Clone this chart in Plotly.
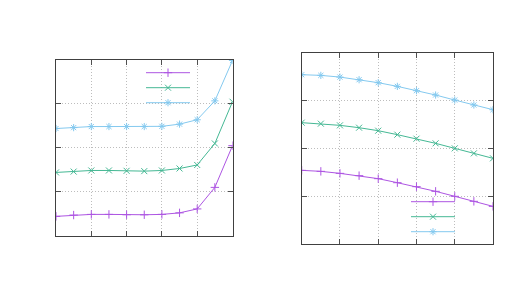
import plotly.graph_objects as go

x_vals = [0, 0.5, 1, 1.5, 2, 2.5, 3, 3.5, 4, 4.5, 5]

left_purple = [0.44, 0.47, 0.485, 0.485, 0.477, 0.477, 0.485, 0.52, 0.61, 1.10, 2.05]
left_green = [1.44, 1.46, 1.485, 1.485, 1.477, 1.47, 1.485, 1.53, 1.61, 2.10, 3.05]
left_blue = [2.44, 2.46, 2.485, 2.485, 2.485, 2.485, 2.49, 2.54, 2.64, 3.07, 3.99]

right_purple = [1.54, 1.519, 1.477, 1.429, 1.366, 1.282, 1.199, 1.101, 0.997, 0.892, 0.787]
right_green = [2.537, 2.516, 2.481, 2.432, 2.369, 2.286, 2.202, 2.105, 2.0, 1.895, 1.791]
right_blue = [3.54, 3.526, 3.49, 3.435, 3.373, 3.296, 3.206, 3.115, 3.01, 2.906, 2.808]

colors = ["#ad55e2", "#45b894", "#84c9ef"]
symbols = ["cross-thin-open", "x-thin-open", "asterisk-open"]

# page has an 8px body margin; figure coordinates = screen - OFF
OFF = 8
W, H = 520 - OFF, 300 - OFF


def px(xs):
    return (xs - OFF) / W


def py(ys):
    return 1 - (ys - OFF) / H


fig = go.Figure()

left_series = [left_purple, left_green, left_blue]
right_series = [right_purple, right_green, right_blue]

legend_names_left = ["legend", "legend2", "legend3"]
legend_names_right = ["legend4", "legend5", "legend6"]

for i, ys in enumerate(left_series):
    fig.add_trace(go.Scatter(
        x=x_vals, y=ys, mode="lines+markers", name="",
        line=dict(color=colors[i], width=1),
        marker=dict(symbol=symbols[i], size=6, color=colors[i],
                    line=dict(color=colors[i], width=1)),
        xaxis="x", yaxis="y", legend=legend_names_left[i], showlegend=True,
    ))
for i, ys in enumerate(right_series):
    fig.add_trace(go.Scatter(
        x=x_vals, y=ys, mode="lines+markers", name="",
        line=dict(color=colors[i], width=1),
        marker=dict(symbol=symbols[i], size=6, color=colors[i],
                    line=dict(color=colors[i], width=1)),
        xaxis="x2", yaxis="y2", legend=legend_names_right[i], showlegend=True,
    ))

axis_common = dict(
    showgrid=True, gridcolor="#bdbdbd", griddash="1px,2px", gridwidth=1,
    showline=True, linecolor="#404040", linewidth=1, mirror="allticks",
    ticks="inside", ticklen=5, tickcolor="#505050", tickwidth=1,
    showticklabels=False, zeroline=False, dtick=1, tick0=0,
)

fig.update_layout(
    width=W, height=H,
    margin=dict(l=0, r=0, t=0, b=0),
    paper_bgcolor="white", plot_bgcolor="white",
    xaxis=dict(domain=[px(56), px(232.5)], range=[0, 5], anchor="y", **axis_common),
    yaxis=dict(domain=[py(235.7), py(60)], range=[0, 4], anchor="x", **axis_common),
    xaxis2=dict(domain=[px(301.7), px(493)], range=[0, 5], anchor="y2", **axis_common),
    yaxis2=dict(domain=[py(244), py(52.7)], range=[0, 4], anchor="x2", **axis_common),
    shapes=[
        dict(type="rect", xref="paper", yref="paper", layer="between",
             x0=px(70), x1=px(197), y0=py(110), y1=py(60.5),
             fillcolor="white", line=dict(width=0)),
        dict(type="rect", xref="paper", yref="paper", layer="between",
             x0=px(330), x1=px(462), y0=py(243.5), y1=py(193),
             fillcolor="white", line=dict(width=0)),
    ],
)

left_rows = [72.7, 87.7, 102.7]
right_rows = [201.7, 216.7, 231.7]
for name, row in zip(legend_names_left, left_rows):
    fig.update_layout({name: dict(x=px(141), y=py(row), xanchor="left", yanchor="middle",
                                  bgcolor="rgba(0,0,0,0)", itemwidth=44, font=dict(size=9))})
for name, row in zip(legend_names_right, right_rows):
    fig.update_layout({name: dict(x=px(406), y=py(row), xanchor="left", yanchor="middle",
                                  bgcolor="rgba(0,0,0,0)", itemwidth=44, font=dict(size=9))})

fig.write_html("out.html")
